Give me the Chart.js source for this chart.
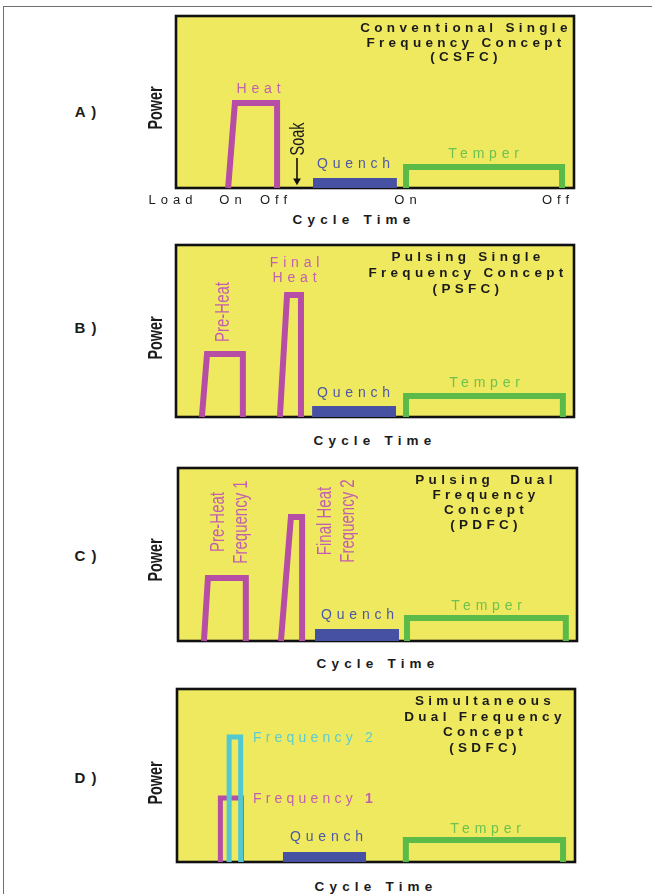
<!DOCTYPE html>
<html><head><meta charset="utf-8">
<script src="https://cdn.jsdelivr.net/npm/chart.js@4.4.1/dist/chart.umd.min.js"></script>
<style>
html,body{margin:0;padding:0;background:#fff;}
body{width:652px;height:894px;overflow:hidden;position:relative;font-family:"Liberation Sans",Arial,Helvetica,sans-serif;}
.frame{position:absolute;left:3px;top:6px;width:720px;height:1000px;border:1px solid #6e6e6e;}
.t{position:absolute;white-space:nowrap;line-height:1;transform:translate(-50%,-50%);}
.title{font-weight:bold;font-size:13.5px;letter-spacing:4.3px;color:#1b1b1b;text-align:center;line-height:15px;}
.lab{font-size:14px;letter-spacing:4.8px;}
.axis{font-weight:bold;font-size:13.5px;letter-spacing:5.2px;color:#1b1b1b;}
.tick{font-size:13px;letter-spacing:5px;color:#1b1b1b;}
.panel{font-weight:bold;font-size:15px;letter-spacing:1px;color:#1b1b1b;}
</style>
</head><body>
<div class="frame"></div>
<script>
// ---------- data (x: cycle time 0-100, y: power 0-100) ----------
const panelLetters = ['A )', 'B )', 'C )', 'D )'];
const tickLabelsA = ['Load', 'On', 'Off', 'On', 'Off'];

// Panel A - CSFC
const aHeatX = [13.1, 14.8, 25.4, 25.4];
const aHeatY = [0, 49.4, 49.4, 0];
const aQuenchX = [34.4, 34.4, 55.5, 55.5];
const aQuenchY = [0, 5.8, 5.8, 0];
const aTemperX = [57.8, 57.8, 97.0, 97.0];
const aTemperY = [0, 12.2, 12.2, 0];
const aSoakX = [30.4, 30.4];
const aSoakY = [17.4, 4.2];

// Panel B - PSFC
const bPreX = [6.5, 7.8, 16.8, 16.8];
const bPreY = [0, 36.6, 36.6, 0];
const bFinalX = [26.1, 27.9, 31.4, 31.4];
const bFinalY = [0, 70.9, 70.9, 0];
const bQuenchX = [34.2, 34.2, 55.3, 55.3];
const bQuenchY = [0, 6.4, 6.4, 0];
const bTemperX = [57.8, 57.8, 97.2, 97.2];
const bTemperY = [0, 12.2, 12.2, 0];

// Panel C - PDFC
const cPreX = [6.5, 7.5, 17.0, 17.0];
const cPreY = [0, 36.4, 36.4, 0];
const cFinalX = [25.8, 28.3, 31.1, 31.1];
const cFinalY = [0, 71.7, 71.7, 0];
const cQuenchX = [34.3, 34.3, 55.4, 55.4];
const cQuenchY = [0, 6.9, 6.9, 0];
const cTemperX = [57.4, 57.4, 97.2, 97.2];
const cTemperY = [0, 13.3, 13.3, 0];

// Panel D - SDFC
const dFreq1X = [10.9, 10.9, 16.2, 16.2];
const dFreq1Y = [0, 37.0, 37.0, 0];
const dFreq2X = [13.1, 13.1, 16.0, 16.0];
const dFreq2Y = [0, 72.3, 72.3, 0];
const dQuenchX = [26.6, 26.6, 47.5, 47.5];
const dQuenchY = [0, 5.8, 5.8, 0];
const dTemperX = [57.5, 57.5, 97.0, 97.0];
const dTemperY = [0, 12.7, 12.7, 0];

// ---------- styles ----------
const MAG = '#b54ea4', BLUE = '#4651a3', GREEN = '#5cba48', CYAN = '#52c8d0', YEL = '#efe960';
const MAGT = '#c25fae', BLUET = '#4d57a6', GREENT = '#6cc24e', CYANT = '#5ccbd3';

function pts(xs, ys){ return xs.map((x,i)=>({x:x, y:ys[i]})); }
function lineDs(xs, ys, color, w, order){
  return {data:pts(xs,ys), borderColor:color, borderWidth:w, pointRadius:0, fill:false,
          tension:0, clip:false, borderJoinStyle:'miter', borderCapStyle:'butt', order:order||0};
}
function fillDs(xs, ys, color){
  return {data:pts(xs,ys), borderColor:'rgba(0,0,0,0)', borderWidth:1, backgroundColor:color,
          pointRadius:0, fill:'origin', tension:0, clip:false, order:5};
}

const boxPlugin = {
  id:'box',
  beforeDraw(chart){
    const a = chart.chartArea, ctx = chart.ctx;
    ctx.save(); ctx.fillStyle = YEL; ctx.fillRect(a.left, a.top, a.right-a.left, a.bottom-a.top); ctx.restore();
  },
  beforeDatasetsDraw(chart){
    const a = chart.chartArea, ctx = chart.ctx;
    ctx.save(); ctx.strokeStyle = '#111'; ctx.lineWidth = 2.6;
    ctx.strokeRect(a.left, a.top, a.right-a.left, a.bottom-a.top); ctx.restore();
  }
};

function makeChart(box, datasets){
  const pad = 14;
  const c = document.createElement('canvas');
  const W = box.w + 2*pad, H = box.h + 2*pad;
  c.width = W; c.height = H;
  c.style.cssText = 'position:absolute;left:'+(box.x-pad)+'px;top:'+(box.y-pad)+'px;width:'+W+'px;height:'+H+'px;';
  document.body.appendChild(c);
  return new Chart(c, {
    type:'line',
    data:{datasets:datasets},
    options:{
      responsive:false, animation:false, devicePixelRatio:1,
      layout:{padding:pad},
      scales:{
        x:{type:'linear', min:0, max:100, display:false},
        y:{type:'linear', min:0, max:100, display:false}
      },
      plugins:{legend:{display:false}, tooltip:{enabled:false}}
    },
    plugins:[boxPlugin]
  });
}

// ---------- charts ----------
const soak = lineDs(aSoakX, aSoakY, '#111', 1.6, 0);
soak.pointRadius = [0, 4.5]; soak.pointStyle = 'triangle'; soak.rotation = 180;
soak.pointBackgroundColor = '#111'; soak.pointBorderWidth = 0;

makeChart({x:176, y:16, w:398, h:172}, [
  fillDs(aQuenchX, aQuenchY, BLUE),
  lineDs(aHeatX, aHeatY, MAG, 6),
  lineDs(aTemperX, aTemperY, GREEN, 6),
  soak
]);
makeChart({x:176, y:245, w:398, h:172}, [
  fillDs(bQuenchX, bQuenchY, BLUE),
  lineDs(bPreX, bPreY, MAG, 6),
  lineDs(bFinalX, bFinalY, MAG, 6),
  lineDs(bTemperX, bTemperY, GREEN, 6)
]);
makeChart({x:178, y:468, w:399, h:173}, [
  fillDs(cQuenchX, cQuenchY, BLUE),
  lineDs(cPreX, cPreY, MAG, 6),
  lineDs(cFinalX, cFinalY, MAG, 6),
  lineDs(cTemperX, cTemperY, GREEN, 6)
]);
makeChart({x:177, y:689, w:398, h:173}, [
  fillDs(dQuenchX, dQuenchY, BLUE),
  lineDs(dFreq1X, dFreq1Y, MAG, 5, 2),
  lineDs(dFreq2X, dFreq2Y, CYAN, 5, 1),
  lineDs(dTemperX, dTemperY, GREEN, 6, 3)
]);

// ---------- text (layout) ----------
function T(html, x, y, cls, style, transform){
  const d = document.createElement('div');
  d.className = 't ' + (cls||'');
  d.innerHTML = html;
  d.style.left = x + 'px'; d.style.top = y + 'px';
  if (style) d.style.cssText += style;
  if (transform) d.style.transform = transform;
  document.body.appendChild(d);
  return d;
}
const ROT = (s)=>'translate(-50%,-50%) rotate(-90deg) scale('+s+',1)';

// panel letters and Power axis titles
const panelY = [111, 327, 555, 777];
const powerY = [108, 338, 560, 783];
panelLetters.forEach((p,i)=>{
  T(p, 86, panelY[i], 'panel');
  T('Power', 155, powerY[i], '', 'font-weight:bold;font-size:20px;color:#1b1b1b;', ROT(0.72));
});
// Cycle Time axis titles
[[352,220],[373,441],[376,664],[374,887]].forEach(p=>T('Cycle Time', p[0]+2, p[1], 'axis'));

// Panel A
T('Conventional Single<br>Frequency Concept<br>(CSFC)', 466, 43, 'title', 'line-height:14.5px;');
T('Heat', 261, 88, 'lab', 'color:'+MAGT+';');
T('Soak', 297, 139, '', 'font-size:20px;color:#1b1b1b;', ROT(0.72));
T('Quench', 356, 163, 'lab', 'color:'+BLUET+';');
T('Temper', 486, 153, 'lab', 'color:'+GREENT+';');
const tickXA = [173, 233, 276, 408, 558];
tickLabelsA.forEach((s,i)=>T(s, tickXA[i], 199, 'tick'));

// Panel B
T('Pulsing Single<br>Frequency Concept<br>(PSFC)', 468, 273, 'title', 'line-height:16px;');
T('Final<br>Heat', 297, 270, 'lab', 'color:'+MAGT+';text-align:center;line-height:15px;');
T('Pre-Heat', 222, 312, '', 'font-size:20px;color:'+MAGT+';', ROT(0.75));
T('Quench', 356, 392, 'lab', 'color:'+BLUET+';');
T('Temper', 487, 382, 'lab', 'color:'+GREENT+';');

// Panel C
T('Pulsing&nbsp; Dual<br>Frequency<br>Concept<br>(PDFC)', 486, 502, 'title', 'line-height:15px;');
T('Pre-Heat<br>Frequency 1', 228.5, 522, '', 'font-size:20px;color:'+MAGT+';text-align:center;line-height:23px;', ROT(0.75));
T('Final Heat<br>Frequency 2', 335.5, 521, '', 'font-size:20px;color:'+MAGT+';text-align:center;line-height:23px;', ROT(0.75));
T('Quench', 360, 614, 'lab', 'color:'+BLUET+';');
T('Temper', 489, 605, 'lab', 'color:'+GREENT+';');

// Panel D
T('Simultaneous<br>Dual Frequency<br>Concept<br>(SDFC)', 485, 724, 'title', 'line-height:15.5px;');
T('Frequency 2', 253, 737, 'lab', 'color:'+CYANT+';transform:translate(0,-50%);letter-spacing:4.2px;');
T('Frequency <b>1</b>', 253, 798, 'lab', 'color:'+MAGT+';transform:translate(0,-50%);letter-spacing:4.2px;');
T('Quench', 329, 836, 'lab', 'color:'+BLUET+';');
T('Temper', 488, 828, 'lab', 'color:'+GREENT+';');
</script>
</body></html>
